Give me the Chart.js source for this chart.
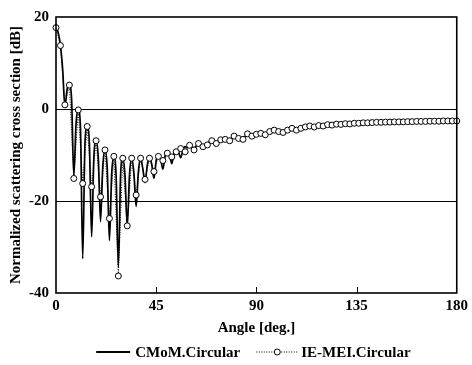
<!DOCTYPE html>
<html>
<head>
<meta charset="utf-8">
<script src="https://cdn.jsdelivr.net/npm/chart.js@4.4.1/dist/chart.umd.min.js"></script>
<style>
    html, body { margin: 0; padding: 0; background: #fff; }
    #wrap { width: 472px; height: 365px; }
</style>
</head>
<body>
<div id="wrap"><canvas id="rcsChart" width="472" height="365"></canvas></div>
<script>
// Axes
var xTicks = [0, 45, 90, 135, 180];
var yTicks = [-40, -20, 0, 20];

// CMoM.Circular : 1 deg steps up to 59, then 2 deg steps
var cmomAngles = [];
for (var a = 0; a < 60; a++) cmomAngles.push(a);
for (var a = 60; a <= 180; a += 2) cmomAngles.push(a);
var cmomDb = [
    17.7, 16.6, 13.8, 8.6, 0.5, 4.3, 5.2, 2.2, -14.5, -3.2,
    -0.2, -4.2, -32.5, -7.6, -3.8, -7.6, -27.8, -10.6, -6.9, -10.6,
    -24.5, -12.6, -8.9, -12.8, -28.6, -14.2, -10.3, -14.6, -34.3, -14.6,
    -10.7, -14.6, -25.5, -14.4, -10.7, -14.0, -21.2, -13.6, -10.7, -13.0,
    -16.0, -12.2, -10.7, -12.0, -15.1, -11.2, -10.1, -10.8, -13.1, -10.2,
    -9.4, -9.9, -11.9, -9.6, -9.0, -9.3, -10.6, -8.9, -8.2, -8.4,
    -7.9, -8.6, -7.5, -8.0, -7.4, -7.0, -7.2, -6.7, -6.6, -6.6,
    -6.0, -6.3, -6.3, -5.6, -5.8, -5.4, -5.3, -5.4, -4.9, -4.7,
    -4.9, -4.9, -4.6, -4.3, -4.5, -4.2, -4.0, -3.8, -3.8, -3.6,
    -3.6, -3.4, -3.4, -3.3, -3.3, -3.2, -3.2, -3.1, -3.1, -3.0,
    -3.0, -2.95, -2.9, -2.9, -2.85, -2.85, -2.8, -2.8, -2.8, -2.75,
    -2.75, -2.7, -2.7, -2.7, -2.65, -2.65, -2.65, -2.6, -2.6, -2.6,
    -2.6
];

// IE-MEI.Circular : every 2 deg
var ieAngles = [];
for (var b = 0; b <= 180; b += 2) ieAngles.push(b);
var ieDb = [
    17.7, 13.8, 0.9, 5.2, -15.1, -0.2, -16.2, -3.8, -16.9, -6.9,
    -19.1, -8.9, -23.8, -10.3, -36.3, -10.7, -25.4, -10.7, -18.7, -10.7,
    -15.3, -10.7, -13.6, -10.3, -11.2, -9.6, -10.4, -9.3, -8.6, -9.3,
    -7.9, -8.9, -7.5, -8.2, -7.8, -6.9, -7.5, -6.7, -6.6, -6.9,
    -5.9, -6.4, -6.6, -5.4, -5.9, -5.5, -5.3, -5.6, -4.9, -4.6,
    -4.9, -5.1, -4.6, -4.2, -4.6, -4.2, -3.9, -3.7, -3.9, -3.6,
    -3.7, -3.4, -3.5, -3.3, -3.35, -3.2, -3.25, -3.1, -3.1, -3.0,
    -3.0, -2.95, -2.9, -2.9, -2.85, -2.85, -2.8, -2.8, -2.8, -2.75,
    -2.75, -2.7, -2.7, -2.7, -2.65, -2.65, -2.65, -2.6, -2.6, -2.6,
    -2.6
];

var FONT = '"Liberation Serif", "Times New Roman", serif';

function toPoints(xs, ys) {
    return xs.map(function(x, i) { return { x: x, y: ys[i] }; });
}

// frame, inner ticks and legend
var decorPlugin = {
    id: 'decor',
    afterDraw: function(chart) {
        var ctx = chart.ctx;
        var area = chart.chartArea;
        var xs = chart.scales.x;
        ctx.save();
        ctx.strokeStyle = '#000';
        ctx.lineWidth = 1.6;
        ctx.strokeRect(area.left, area.top, area.right - area.left, area.bottom - area.top);

        // tick marks pointing into the plot
        ctx.lineWidth = 1;
        xTicks.slice(1, -1).forEach(function(v) {
            var px = Math.round(xs.getPixelForValue(v)) + 0.5;
            ctx.beginPath();
            ctx.moveTo(px, area.bottom);
            ctx.lineTo(px, area.bottom - 6);
            ctx.stroke();
        });

        // legend
        var ds = chart.data.datasets;
        ctx.font = 'bold 15px ' + FONT;
        ctx.fillStyle = '#000';
        ctx.textBaseline = 'middle';
        var w1 = ctx.measureText(ds[1].label).width;
        var w2 = ctx.measureText(ds[0].label).width;
        var total = 34 + 5 + w1 + 16 + 42 + 3 + w2;
        var x = (area.left + area.right) / 2 - 3 - total / 2;
        var y = 353;

        ctx.lineWidth = 2;
        ctx.beginPath();
        ctx.moveTo(x, y - 1);
        ctx.lineTo(x + 34, y - 1);
        ctx.stroke();
        x += 34 + 5;
        ctx.fillText(ds[1].label, x, y);
        x += w1 + 16;

        ctx.lineWidth = 1;
        ctx.setLineDash([1, 1.5]);
        ctx.beginPath();
        ctx.moveTo(x, y - 1);
        ctx.lineTo(x + 42, y - 1);
        ctx.stroke();
        ctx.setLineDash([]);
        ctx.beginPath();
        ctx.arc(x + 21, y - 1, 3, 0, Math.PI * 2);
        ctx.fillStyle = '#fff';
        ctx.fill();
        ctx.stroke();
        ctx.fillStyle = '#000';
        x += 42 + 3;
        ctx.fillText(ds[0].label, x, y);
        ctx.restore();
    }
};

var chart = new Chart(document.getElementById('rcsChart').getContext('2d'), {
    type: 'line',
    data: {
        datasets: [{
            label: 'IE-MEI.Circular',
            data: toPoints(ieAngles, ieDb),
            borderColor: '#000',
            borderWidth: 1,
            borderDash: [1, 1.5],
            pointRadius: 3,
            pointBorderWidth: 1,
            pointBorderColor: '#000',
            pointBackgroundColor: '#fff',
            tension: 0,
            clip: false,
            order: 0
        }, {
            label: 'CMoM.Circular',
            data: toPoints(cmomAngles, cmomDb),
            borderColor: '#000',
            borderWidth: 1.7,
            pointRadius: 0,
            cubicInterpolationMode: 'monotone',
            clip: false,
            order: 1
        }]
    },
    options: {
        responsive: false,
        animation: false,
        events: [],
        layout: { padding: { top: 17, right: 12, bottom: 22, left: 0 } },
        plugins: {
            legend: { display: false },
            tooltip: { enabled: false }
        },
        scales: {
            x: {
                type: 'linear',
                min: 0,
                max: 180,
                afterBuildTicks: function(scale) {
                    scale.ticks = xTicks.map(function(v) { return { value: v }; });
                },
                afterFit: function(scale) { scale.height = 50; },
                grid: { display: false, drawTicks: false },
                border: { display: false },
                ticks: {
                    color: '#000',
                    padding: 4,
                    maxRotation: 0,
                    font: { family: FONT, size: 15, weight: 'bold' }
                },
                title: {
                    display: true,
                    text: 'Angle [deg.]',
                    color: '#000',
                    padding: { top: 0, bottom: 6 },
                    font: { family: FONT, size: 15, weight: 'bold' }
                }
            },
            y: {
                min: -40,
                max: 20,
                afterBuildTicks: function(scale) {
                    scale.ticks = yTicks.map(function(v) { return { value: v }; });
                },
                afterFit: function(scale) { scale.width = 56; },
                grid: {
                    drawTicks: false,
                    color: function(c) {
                        return (c.tick && (c.tick.value === 0 || c.tick.value === -20)) ? '#000' : 'rgba(0,0,0,0)';
                    },
                    lineWidth: 1
                },
                border: { display: false },
                ticks: {
                    color: '#000',
                    padding: 7,
                    font: { family: FONT, size: 15, weight: 'bold' }
                },
                title: {
                    display: true,
                    text: 'Normalized scattering cross section [dB]',
                    color: '#000',
                    padding: { top: 7, bottom: 0 },
                    font: { family: FONT, size: 15, weight: 'bold' }
                }
            }
        }
    },
    plugins: [decorPlugin]
});
</script>
</body>
</html>
